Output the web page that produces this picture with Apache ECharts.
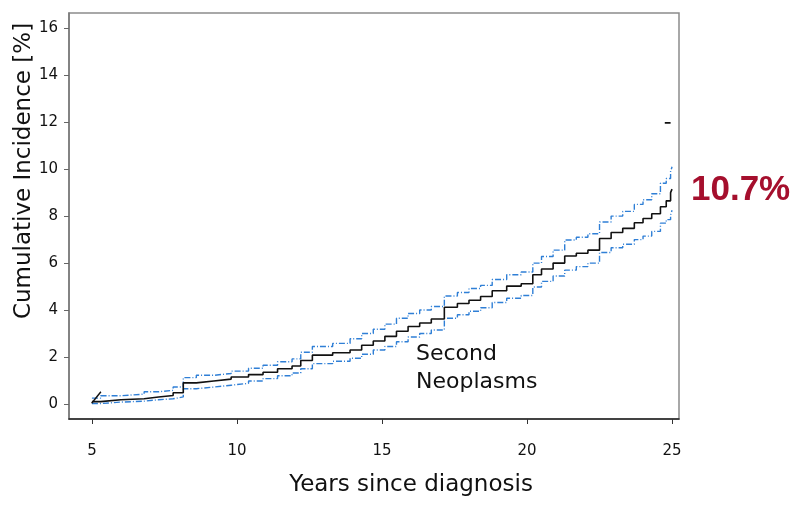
<!DOCTYPE html>
<html>
<head>
<meta charset="utf-8">
<script src="https://cdn.jsdelivr.net/npm/echarts@6/dist/echarts.min.js"></script>
<style>
  html, body { margin: 0; padding: 0; background: #fff; }
  #chart { width: 800px; height: 506px; }
</style>
</head>
<body>
<div id="chart"></div>
<script>
// ---- Data ----
const years = [5.0, 5.3, 6.0, 6.8, 7.3, 7.8, 8.15, 8.6, 9.2, 9.8, 10.4, 10.9, 11.4, 11.9, 12.2, 12.6,
  13.3, 13.9, 14.3, 14.7, 15.1, 15.5, 15.9, 16.3, 16.7, 17.15, 17.6, 18.0, 18.4, 18.8, 19.3, 19.8,
  20.2, 20.5, 20.9, 21.3, 21.7, 22.1, 22.5, 22.9, 23.3, 23.7, 24.0, 24.3, 24.6, 24.8, 24.95, 25.0];
const cumInc = [0.10, 0.18, 0.22, 0.30, 0.36, 0.48, 0.90, 0.98, 1.06, 1.15, 1.25, 1.35, 1.50, 1.62, 1.85, 2.08,
  2.18, 2.30, 2.50, 2.68, 2.88, 3.10, 3.30, 3.45, 3.62, 4.12, 4.28, 4.42, 4.58, 4.82, 5.02, 5.12,
  5.50, 5.75, 6.00, 6.30, 6.42, 6.55, 7.05, 7.30, 7.48, 7.72, 7.90, 8.10, 8.40, 8.65, 9.00, 9.15];
const upperCI = [0.25, 0.35, 0.42, 0.52, 0.58, 0.72, 1.12, 1.22, 1.30, 1.40, 1.52, 1.65, 1.80, 1.92, 2.20, 2.45,
  2.58, 2.78, 3.00, 3.18, 3.40, 3.65, 3.85, 4.00, 4.15, 4.60, 4.75, 4.92, 5.05, 5.30, 5.50, 5.62,
  6.00, 6.28, 6.55, 6.98, 7.10, 7.25, 7.75, 8.00, 8.20, 8.50, 8.70, 8.95, 9.40, 9.60, 9.90, 10.10];
const lowerCI = [0.02, 0.08, 0.12, 0.18, 0.22, 0.30, 0.65, 0.72, 0.80, 0.88, 0.98, 1.08, 1.20, 1.32, 1.50, 1.72,
  1.82, 1.95, 2.12, 2.30, 2.45, 2.65, 2.85, 3.00, 3.15, 3.65, 3.80, 3.95, 4.10, 4.32, 4.50, 4.62,
  4.98, 5.22, 5.45, 5.70, 5.85, 6.00, 6.45, 6.65, 6.80, 7.00, 7.15, 7.35, 7.70, 7.85, 8.05, 8.25];
// small marks seen in the picture
const startStrokeX = [4.99, 5.31];
const startStrokeY = [0.03, 0.52];
const endDashX = [24.75, 24.95];
const endDashY = [11.97, 11.97];

const xTicks = [5, 10, 15, 20, 25];
const yTicks = [0, 2, 4, 6, 8, 10, 12, 14, 16];
const curveLabel = ['Second', 'Neoplasms'];
const finalLabel = '10.7%';
const xTitle = 'Years since diagnosis';
const yTitle = 'Cumulative Incidence [%]';

// ---- Build ----
const zip = (xs, ys) => xs.map((x, i) => [x, ys[i]]);
const FONT = 'DejaVu Sans';
const blue = '#2f7fd6';

const chart = echarts.init(document.getElementById('chart'), null, { renderer: 'canvas' });
chart.setOption({
  animation: false,
  backgroundColor: '#fff',
  grid: { left: 69, right: 121, top: 13, bottom: 87, show: true, borderColor: '#8c8c8c', borderWidth: 1.5, backgroundColor: 'transparent' },
  xAxis: {
    type: 'value', min: 4.21, max: 25.24,
    axisLine: { show: true, onZero: false, lineStyle: { color: '#222', width: 1.5 } },
    axisTick: { show: true, length: 5, customValues: xTicks, lineStyle: { color: '#333', width: 1 } },
    axisLabel: { customValues: xTicks, margin: 25, fontFamily: FONT, fontSize: 15, color: '#111' },
    splitLine: { show: false }
  },
  yAxis: {
    type: 'value', min: -0.64, max: 16.65,
    axisLine: { show: true, onZero: false, lineStyle: { color: '#777', width: 1.5 } },
    axisTick: { show: true, length: 5, customValues: yTicks, lineStyle: { color: '#666', width: 1 } },
    axisLabel: { customValues: yTicks, margin: 11, fontFamily: FONT, fontSize: 15, color: '#111' },
    splitLine: { show: false }
  },
  series: [
    { type: 'line', step: 'end', data: zip(years, upperCI), showSymbol: false,
      lineStyle: { color: blue, width: 1.4, type: [6, 2, 1, 2] }, z: 2 },
    { type: 'line', step: 'end', data: zip(years, lowerCI), showSymbol: false,
      lineStyle: { color: blue, width: 1.4, type: [6, 2, 1, 2] }, z: 2 },
    { type: 'line', step: 'end', data: zip(years, cumInc), showSymbol: false,
      lineStyle: { color: '#111', width: 1.6 }, z: 3 },
    { type: 'line', data: zip(startStrokeX, startStrokeY), showSymbol: false,
      lineStyle: { color: '#111', width: 1.4 }, z: 3 },
    { type: 'line', data: zip(endDashX, endDashY), showSymbol: false,
      lineStyle: { color: '#111', width: 1.6 }, z: 3 }
  ],
  graphic: [
    { type: 'text', x: 411, y: 485, z: 10,
      style: { text: xTitle, font: '23px "DejaVu Sans"', fill: '#111', align: 'center', verticalAlign: 'middle' } },
    { type: 'text', x: 24, y: 171, rotation: Math.PI / 2, z: 10,
      style: { text: yTitle, font: '23px "DejaVu Sans"', fill: '#111', align: 'center', verticalAlign: 'middle' } },
    { type: 'text', left: 416, top: 343, z: 10,
      style: { text: curveLabel[0], font: '22px "DejaVu Sans"', fill: '#111' } },
    { type: 'text', left: 416, top: 371, z: 10,
      style: { text: curveLabel[1], font: '22px "DejaVu Sans"', fill: '#111' } },
    { type: 'text', left: 691, top: 173, z: 10,
      style: { text: finalLabel, font: 'bold 35px "Liberation Sans"', fill: '#a50f2d' } }
  ]
});
</script>
</body>
</html>
